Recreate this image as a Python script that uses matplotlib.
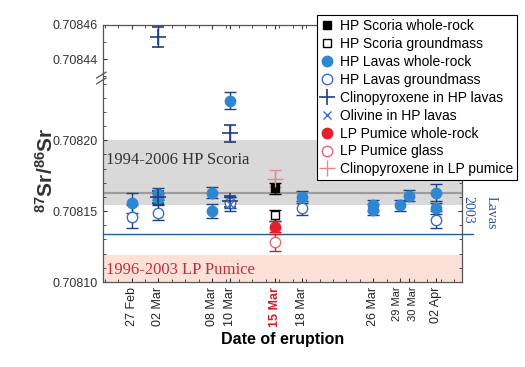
import matplotlib.pyplot as plt
from matplotlib.ticker import MultipleLocator, FixedLocator
from matplotlib.lines import Line2D
from matplotlib.transforms import ScaledTranslation

plt.rcParams['font.family'] = ['Liberation Sans', 'DejaVu Sans']
plt.rcParams['mathtext.default'] = 'regular'

# days since 27 Feb 2007
date_days = [0, 3, 9, 11, 16, 19, 27, 30, 31, 34]
date_labels = ['27 Feb', '02 Mar', '08 Mar', '10 Mar', '15 Mar', '18 Mar',
               '26 Mar', '29 Mar', '30 Mar', '02 Apr']

scoria_wr_x = [16]
scoria_wr_y = [0.708166]
scoria_wr_e = [0.000004]

scoria_gm_x = [16]
scoria_gm_y = [0.708147]
scoria_gm_e = [0.000004]

lavas_wr_x = [0, 3, 3, 9, 9, 11, 19, 27, 27, 30, 31, 34, 34]
lavas_wr_y = [0.708156, 0.708162, 0.708159, 0.708163, 0.708150, 0.708228,
              0.708160, 0.708154, 0.708151, 0.708154, 0.708161, 0.708163,
              0.708152]
lavas_wr_e = [0.000007, 0.000004, 0.000004, 0.000004, 0.000005, 0.000006,
              0.000004, 0.000004, 0.000004, 0.000004, 0.000004, 0.000006,
              0.000004]

lavas_gm_x = [0, 3, 11, 19, 34]
lavas_gm_y = [0.708146, 0.708149, 0.708156, 0.708152, 0.708144]
lavas_gm_e = [0.000008, 0.000005, 0.000004, 0.000005, 0.000006]

cpx_hp_x = [3, 3, 11, 11]
cpx_hp_y = [0.708453, 0.708160, 0.708205, 0.708157]
cpx_hp_e = [0.000006, 0.000004, 0.000006, 0.000004]

ol_hp_x = [11]
ol_hp_y = [0.708155]
ol_hp_e = [0.000005]

lp_wr_x = [16]
lp_wr_y = [0.708139]
lp_wr_e = [0.000004]

lp_glass_x = [16]
lp_glass_y = [0.708128]
lp_glass_e = [0.000006]

cpx_lp_x = [16]
cpx_lp_y = [0.708173]
cpx_lp_e = [0.000006]

scoria_band = (0.708154, 0.708200)
scoria_mean = 0.708163
pumice_band = (0.708100, 0.708119)
lavas_2003 = 0.708134

blue = '#2f86d2'
navy = '#1f3f80'
red = '#e0202c'
pink = '#e58a8a'

fig = plt.figure(figsize=(5.25, 3.67), dpi=100)
ax_lo = fig.add_axes([0.196, 0.2316, 0.684, 0.556])
ax_hi = fig.add_axes([0.196, 0.7875, 0.684, 0.1444])

series = [
    (scoria_wr_x, scoria_wr_y, scoria_wr_e, dict(marker='s', mfc='black', mec='black', ms=6), 'black', 'HP Scoria whole-rock'),
    (scoria_gm_x, scoria_gm_y, scoria_gm_e, dict(marker='s', mfc='white', mec='black', ms=6), 'black', 'HP Scoria groundmass'),
    (lavas_gm_x, lavas_gm_y, lavas_gm_e, dict(marker='o', mfc='white', mec='#3a6cc8', ms=7.5), navy, 'HP Lavas groundmass'),
    (lavas_wr_x, lavas_wr_y, lavas_wr_e, dict(marker='o', mfc=blue, mec=blue, ms=7.5), navy, 'HP Lavas whole-rock'),
    (cpx_hp_x, cpx_hp_y, cpx_hp_e, dict(marker='+', mfc=navy, mec=navy, ms=12, mew=1.2), navy, 'Clinopyroxene in HP lavas'),
    (ol_hp_x, ol_hp_y, ol_hp_e, dict(marker='x', mfc=blue, mec='#3a6cc8', ms=6), navy, 'Olivine in HP lavas'),
    (lp_glass_x, lp_glass_y, lp_glass_e, dict(marker='o', mfc='white', mec='#e06878', ms=7.5), '#c02030', 'LP Pumice glass'),
    (lp_wr_x, lp_wr_y, lp_wr_e, dict(marker='o', mfc=red, mec=red, ms=7.5), '#c02030', 'LP Pumice whole-rock'),
    (cpx_lp_x, cpx_lp_y, cpx_lp_e, dict(marker='+', mfc=pink, mec=pink, ms=12, mew=1.0), pink, 'Clinopyroxene in LP pumice'),
]

for ax in (ax_lo, ax_hi):
    ax.axhspan(*scoria_band, color='#d9d9d9', lw=0, zorder=0)
    ax.axhline(scoria_mean, color='#9c9c9c', lw=1.6, zorder=1)
    ax.axhspan(*pumice_band, color='#fde1d8', lw=0, zorder=0)
    for xs, ys, es, mk, ecol, lab in series:
        ax.errorbar(xs, ys, yerr=es, ls='none', ecolor=ecol, elinewidth=1,
                    capsize=4, capthick=1, zorder=3, **mk)
    ax.set_xlim(-3.2, 36.9)
    ax.tick_params(direction='in', which='both', top=True, right=True,
                   labelsize=9, colors='#333333', length=3)
    ax.tick_params(which='minor', length=2)
    ax.xaxis.set_minor_locator(MultipleLocator(1.5))

ax_lo.axhline(lavas_2003, xmin=0, xmax=1.03, color='#2060a0', lw=1, zorder=2, clip_on=False)

ax_lo.set_ylim(0.70810, 0.708244)
ax_lo.yaxis.set_major_locator(FixedLocator([0.70810, 0.70815, 0.70820]))
ax_lo.yaxis.set_minor_locator(MultipleLocator(0.00001))
ax_lo.set_yticklabels(['0.70810', '0.70815', '0.70820'])
ax_lo.spines['top'].set_visible(False)
ax_lo.tick_params(top=False, which='both')
ax_lo.set_xticks(date_days)
ax_lo.set_xticklabels(date_labels, rotation=90, fontsize=9, color='#222222')
xlabels = ax_lo.get_xticklabels()
xlabels[4].set_color('#d0202a')
xlabels[4].set_fontweight('bold')
# 29 and 30 Mar sit one day apart: tighten and nudge them
for lbl, dx in ((xlabels[7], -2.5), (xlabels[8], 2.5)):
    lbl.set_fontsize(8)
    lbl.set_transform(lbl.get_transform() + ScaledTranslation(dx / 72, 0, fig.dpi_scale_trans))
ax_lo.set_xlabel('Date of eruption', fontsize=11.5, fontweight='bold', labelpad=4)

ax_hi.set_ylim(0.708429, 0.70846)
ax_hi.yaxis.set_major_locator(FixedLocator([0.70844, 0.70846]))
ax_hi.yaxis.set_minor_locator(MultipleLocator(0.00001))
ax_hi.set_yticklabels(['0.70844', '0.70846'])
ax_hi.spines['bottom'].set_visible(False)
ax_hi.tick_params(bottom=False, labelbottom=False, which='both')
ax_hi.set_xticks(date_days)

for ax in (ax_lo, ax_hi):
    for s in ax.spines.values():
        s.set_color('#555555')
        s.set_linewidth(0.9)

# break marks on the left spine
bx, by = 0.196, 0.7875
for dy in (-0.008, 0.008):
    fig.add_artist(Line2D([bx - 0.012, bx + 0.006], [by + dy - 0.008, by + dy + 0.008],
                          color='#555555', lw=0.9))

ax_lo.text(-2.9, 0.708186, '1994-2006 HP Scoria', family='Liberation Serif',
           fontsize=12, color='#333333', va='center', ha='left', zorder=4)
ax_lo.text(-2.9, 0.7081085, '1996-2003 LP Pumice', family='Liberation Serif',
           fontsize=12, color='#c0303a', va='center', ha='left', zorder=4)
ax_lo.text(37.6, 0.708151, '2003', family='Liberation Serif', fontsize=10,
           color='#3050a0', rotation=-90, va='center', ha='center', clip_on=False)
ax_lo.text(40.1, 0.708149, 'Lavas', family='Liberation Serif', fontsize=10,
           color='#3050a0', rotation=-90, va='center', ha='center', clip_on=False)

fig.text(0.088, 0.535, r'$^{87}$Sr/$^{86}$Sr', rotation=90, fontsize=15,
         fontweight='bold', color='#333333', va='center', ha='center')

order = ['HP Scoria whole-rock', 'HP Scoria groundmass', 'HP Lavas whole-rock',
         'HP Lavas groundmass', 'Clinopyroxene in HP lavas', 'Olivine in HP lavas',
         'LP Pumice whole-rock', 'LP Pumice glass', 'Clinopyroxene in LP pumice']
proxies = []
for name in order:
    for xs, ys, es, mk, ecol, lab in series:
        if lab == name:
            proxies.append(Line2D([], [], ls='none', **mk))
leg = fig.legend(proxies, order, loc='upper left', bbox_to_anchor=(0.604, 0.959),
                 fontsize=10, frameon=True, fancybox=False, edgecolor='black',
                 framealpha=1, handlelength=0.8, handletextpad=0.55,
                 labelspacing=0.28, borderpad=0.3, borderaxespad=0)
leg.get_frame().set_linewidth(0.8)
leg.set_zorder(10)

fig.savefig('out.png', dpi=100)
